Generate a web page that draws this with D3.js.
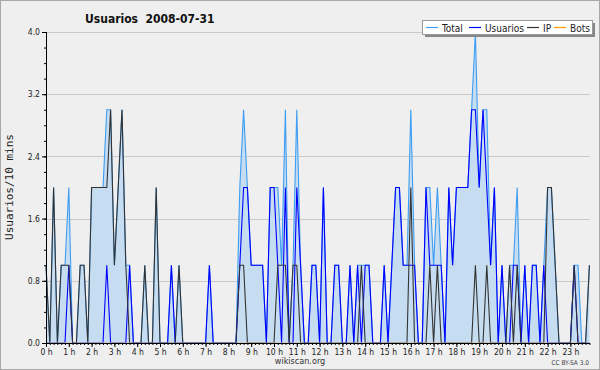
<!DOCTYPE html>
<html>
<head>
<meta charset="utf-8">
<script src="https://cdn.jsdelivr.net/npm/d3@7/dist/d3.min.js"></script>
<style>
body { margin: 0; background: #fff; }
svg { display: block; font-family: "DejaVu Sans Condensed", "DejaVu Sans", sans-serif; }
</style>
</head>
<body>
<svg width="600" height="370"></svg>
<script>
var title = "Usuarios  2008-07-31"
var yLabel = "Usuarios/10 mins"
var footer = "wikiscan.org"
var licence = "CC BY-SA 3.0"

var hourLabels = ["0 h","1 h","2 h","3 h","4 h","5 h","6 h","7 h","8 h","9 h","10 h","11 h",
                  "12 h","13 h","14 h","15 h","16 h","17 h","18 h","19 h","20 h","21 h","22 h","23 h"]
var yTicks = [0, 0.8, 1.6, 2.4, 3.2, 4.0]

// one value every 10 minutes, 144 per day
var total = [
  1,0,2,0,1,1,2,0,0,1,1,0,
  2,2,2,2,3,3,1,2,3,1,1,0,
  0,0,1,0,0,2,0,0,0,1,0,1,
  0,0,0,0,0,0,0,1,0,0,0,0,
  0,0,0,2,3,2,1,1,1,1,0,2,
  2,2,1,3,0,1,3,1,0,0,1,1,
  0,2,0,0,1,1,0,0,1,0,1,1,
  1,1,0,0,0,1,0,1,2,2,1,1,
  3,1,0,0,2,2,1,2,1,0,2,1,
  2,2,2,2,3,4,2,3,3,1,2,0,
  1,0,1,1,2,0,1,0,1,1,0,1,
  2,2,1,0,0,0,0,1,1,0,0,1
]
var usuarios = [
  0,0,0,0,0,0,1,0,0,0,0,0,
  0,0,0,0,1,0,0,0,0,0,1,0,
  0,0,0,0,0,0,0,0,0,1,0,0,
  0,0,0,0,0,0,0,1,0,0,0,0,
  0,0,0,1,2,2,1,1,1,1,0,2,
  2,1,0,2,0,0,2,1,0,0,1,1,
  0,2,0,0,1,1,0,0,1,0,1,0,
  1,1,0,0,0,1,0,1,2,2,1,1,
  1,1,0,0,2,1,1,1,1,0,2,1,
  2,2,2,2,3,3,2,3,2,1,2,0,
  1,0,0,1,1,0,1,0,1,1,0,1,
  0,0,0,0,0,0,0,1,0,0,0,0
]
var ip = [
  1,0,2,0,1,1,1,0,0,1,1,0,
  2,2,2,2,2,3,1,2,3,1,0,0,
  0,0,1,0,0,2,0,0,0,0,0,1,
  0,0,0,0,0,0,0,0,0,0,0,0,
  0,0,0,1,1,0,0,0,0,0,0,0,
  0,1,1,1,0,1,1,0,0,0,0,0,
  0,0,0,0,0,0,0,0,0,0,0,1,
  0,0,0,0,0,0,0,0,0,0,0,0,
  2,0,0,0,0,1,0,1,0,0,0,0,
  0,0,0,0,0,1,0,0,1,0,0,0,
  0,0,1,0,1,0,0,0,0,0,0,0,
  2,2,1,0,0,0,0,1,0,0,0,1
]
var bots = [
  0,0,0,0,0,0,0,0,0,0,0,0,
  0,0,0,0,0,0,0,0,0,0,0,0,
  0,0,0,0,0,0,0,0,0,0,0,0,
  0,0,0,0,0,0,0,0,0,0,0,0,
  0,0,0,0,0,0,0,0,0,0,0,0,
  0,0,0,0,0,0,0,0,0,0,0,0,
  0,0,0,0,0,0,0,0,0,0,0,0,
  0,0,0,0,0,0,0,0,0,0,0,0,
  0,0,0,0,0,0,0,0,0,0,0,0,
  0,0,0,0,0,0,0,0,0,0,0,0,
  0,0,0,0,0,0,0,0,0,0,0,0,
  0,0,0,0,0,0,0,0,0,0,0,0
]

var seriesNames = ["Total", "Usuarios", "IP", "Bots"]
var colors = { Total: "#3d9df2", Usuarios: "#0000ff", IP: "#333333", Bots: "#ff9900" }

// plot box (named to avoid clashing with window.top)
var plotLeft = 46, plotRight = 590, plotTop = 32, plotBottom = 343

var svg = d3.select("svg")

svg.append("rect")
  .attr("x", 0.5).attr("y", 0.5).attr("width", 599).attr("height", 369)
  .style("fill", "#efefef").style("stroke", "#a8a8a8")

// lines sitting on the floor are hidden by the axis, as in the original
svg.append("clipPath").attr("id", "above-axis")
  .append("rect")
  .attr("x", 0).attr("y", 0).attr("width", 600).attr("height", plotBottom - 0.5)

var x = d3.scaleLinear().domain([0, 144]).range([plotLeft, plotLeft + 144 * 3.8])
var y = d3.scaleLinear().domain([0, 4]).range([plotBottom, plotTop])

// grid
svg.append("g").selectAll("line")
  .data(yTicks.slice(1))
  .enter().append("line")
  .attr("x1", plotLeft).attr("x2", plotRight)
  .attr("y1", d => Math.round(y(d)) + 0.5).attr("y2", d => Math.round(y(d)) + 0.5)
  .style("stroke", "#cacaca")

var area = d3.area()
  .x((d, i) => x(i))
  .y0(y(0))
  .y1(d => y(d))

var line = d3.line()
  .x((d, i) => x(i))
  .y(d => y(d))

var data = { Total: total, Usuarios: usuarios, IP: ip, Bots: bots }

svg.append("path")
  .attr("d", area(total))
  .style("fill", "#c6ddf1")

var lines = svg.append("g").attr("clip-path", "url(#above-axis)")
function drawLine(name) {
  lines.append("path")
    .attr("d", line(data[name]))
    .style("fill", "none")
    .style("stroke", colors[name])
    .style("stroke-width", 1.1)
}
drawLine("Bots")
drawLine("Total")
drawLine("Usuarios")
drawLine("IP")

// y axis
var yAxis = svg.append("g").attr("transform", "translate(" + plotLeft + ",0)")
yAxis.call(d3.axisLeft(y).tickValues(d3.range(0, 4.01, 0.2)).tickSize(2).tickFormat(""))
yAxis.append("g").call(d3.axisLeft(y).tickValues(yTicks).tickSize(4).tickPadding(2).tickFormat(d3.format(".1f")))
yAxis.selectAll(".domain").attr("d", "M0.5," + plotTop + "V" + plotBottom)

// x axis
var xAxis = svg.append("g").attr("transform", "translate(0," + plotBottom + ")")
xAxis.call(d3.axisBottom(x).tickValues(d3.range(0, 144, 1)).tickSize(2).tickFormat(""))
xAxis.append("g").call(d3.axisBottom(x).tickValues(d3.range(0, 144, 6)).tickSize(4).tickPadding(2)
  .tickFormat((d, i) => hourLabels[i]))
xAxis.selectAll(".domain").attr("d", "M" + plotLeft + ",0.5H" + plotRight)

svg.selectAll(".domain, .tick line").style("stroke", "#000")
svg.selectAll(".tick text").style("font-size", "8.5px").style("fill", "#222")
  .style("font-family", "\"DejaVu Sans Condensed\", \"DejaVu Sans\", sans-serif")

// titles
svg.append("text")
  .attr("x", 85).attr("y", 23)
  .style("font-size", "12px").style("font-weight", "bold").style("white-space", "pre")
  .style("fill", "#111")
  .text(title)

svg.append("text")
  .attr("transform", "translate(13,187) rotate(-90)")
  .attr("text-anchor", "middle")
  .style("font-family", "\"DejaVu Sans Mono\", monospace").style("font-size", "11px")
  .style("fill", "#222")
  .text(yLabel)

svg.append("text")
  .attr("x", 300).attr("y", 364).attr("text-anchor", "middle")
  .style("font-size", "9px").style("fill", "#333")
  .text(footer)

svg.append("text")
  .attr("x", 589).attr("y", 365).attr("text-anchor", "end")
  .style("font-size", "6.5px").style("fill", "#444")
  .text(licence)

// legend
var legend = svg.append("g")
legend.append("rect")
  .attr("x", 425).attr("y", 23).attr("width", 170).attr("height", 14)
  .style("fill", "#888")
legend.append("rect")
  .attr("x", 422.5).attr("y", 20.5).attr("width", 170).attr("height", 14)
  .style("fill", "#fff").style("stroke", "#999")

var legendX = { Total: 426, Usuarios: 469, IP: 527, Bots: 554 }
seriesNames.forEach(function(name) {
  legend.append("line")
    .attr("x1", legendX[name]).attr("x2", legendX[name] + 12)
    .attr("y1", 27.5).attr("y2", 27.5)
    .style("stroke", colors[name])
    .style("stroke-width", 1.2)
  legend.append("text")
    .attr("x", legendX[name] + 16).attr("y", 31.5)
    .style("font-size", "10px").style("fill", "#222")
    .text(name)
})
</script>
</body>
</html>
